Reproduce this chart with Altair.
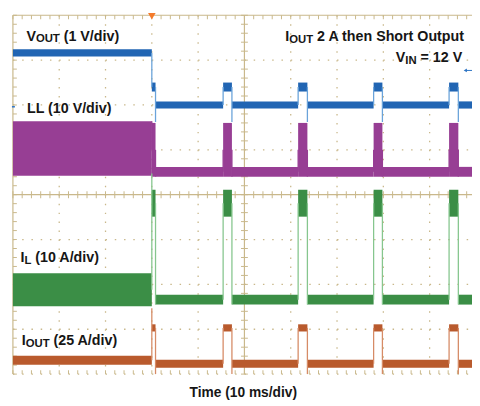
import altair as alt
import pandas as pd

FONT = "Liberation Sans"

# ---------------- data ----------------
# x: time in ms (10 ms/div); y: screen divisions (0 = bottom line, 8 = top line)
record_end_ms = 99.15
event_start_ms = [30.0, 45.4, 61.6, 77.9, 94.2]   # output shorted, then hiccup restarts
event_end_ms = [30.8, 47.3, 63.6, 79.8, 96.2]

channels = ["VOUT", "LL", "IL", "IOUT"]
pre_lo = [7.08, 4.42, 1.51, 0.21]     # trace band before the short
pre_hi = [7.24, 5.64, 2.25, 0.41]
high_lo = [6.30, 4.40, 3.51, 0.95]    # trace band during each restart burst
high_hi = [6.50, 5.60, 4.11, 1.11]
base_lo = [5.92, 4.40, 1.55, 0.14]    # trace band between bursts
base_hi = [6.08, 4.62, 1.77, 0.32]
peak = [6.50, 5.64, 4.47, 1.47]       # top of the edge when the short is applied
dip = [5.62, 4.40, 1.55, 0.00]        # bottom of each falling edge

trace_colors = ["#2165b3", "#973e94", "#3b8e46", "#b95a2d"]
edge_colors = ["#6aa3da", "#973e94", "#86c68e", "#d68b66"]

trigger_ms = 30.0
level_marker_div = 6.77
ground_marker_div = 5.96

# ---------------- build tables ----------------
rect_rows, edge_rows = [], []
for c, name in enumerate(channels):
    col, ecol = trace_colors[c], edge_colors[c]
    rect_rows.append(dict(t0=0.0, t1=event_start_ms[0], lo=pre_lo[c], hi=pre_hi[c], col=col))
    for i, (s, e) in enumerate(zip(event_start_ms, event_end_ms)):
        rect_rows.append(dict(t0=s, t1=e, lo=high_lo[c], hi=high_hi[c], col=col))
        nxt = event_start_ms[i + 1] if i + 1 < len(event_start_ms) else 100.0
        rect_rows.append(dict(t0=e, t1=nxt, lo=base_lo[c], hi=base_hi[c], col=col))
        base_mid = (base_lo[c] + base_hi[c]) / 2
        prev_mid = (pre_lo[c] + pre_hi[c]) / 2 if i == 0 else base_mid
        high_mid = (high_lo[c] + high_hi[c]) / 2
        top = max(prev_mid, high_mid, peak[c] if i == 0 else high_mid)
        edge_rows.append(dict(t=s, y0=min(prev_mid, high_mid), y1=top, col=ecol))
        edge_rows.append(dict(t=e, y0=min(dip[c], base_mid), y1=high_mid, col=ecol))

rects = pd.DataFrame(rect_rows)
edges = pd.DataFrame(edge_rows)

W, H = 467, 365
xs = alt.Scale(domain=[0, record_end_ms], nice=False, zero=False)
ys = alt.Scale(domain=[0, 8], nice=False, zero=False)
GRID = "#c9b88b"

layers = []

# ---- graticule ----
vdot = pd.DataFrame({"x": [10 * k for k in range(1, 10) if k != 5]})
vdot["y0"], vdot["y1"] = 8.0, 0.0
hdot = pd.DataFrame({"y": [k for k in range(0, 8) if k != 4]})
hdot["x0"], hdot["x1"] = 0.0, record_end_ms
vsolid = pd.DataFrame({"x": [0.0, 50.0], "y0": [8.0, 8.0], "y1": [0.0, 0.0]})
hsolid = pd.DataFrame({"y": [8.0, 4.0], "x0": [0.0, 0.0], "x1": [record_end_ms, record_end_ms]})

layers.append(alt.Chart(vdot).mark_rule(color=GRID, strokeWidth=1.3, strokeDash=[1.5, 7.625]).encode(
    x=alt.X("x:Q", scale=xs, axis=None), y=alt.Y("y0:Q", scale=ys, axis=None), y2="y1:Q"))
layers.append(alt.Chart(hdot).mark_rule(color=GRID, strokeWidth=1.3, strokeDash=[1.5, 7.92]).encode(
    y=alt.Y("y:Q", scale=ys), x=alt.X("x0:Q", scale=xs), x2="x1:Q"))
layers.append(alt.Chart(vsolid).mark_rule(color=GRID, strokeWidth=1.2).encode(
    x=alt.X("x:Q", scale=xs), y=alt.Y("y0:Q", scale=ys), y2="y1:Q"))
layers.append(alt.Chart(hsolid).mark_rule(color=GRID, strokeWidth=1.2).encode(
    y=alt.Y("y:Q", scale=ys), x=alt.X("x0:Q", scale=xs), x2="x1:Q"))

minor_x = [2 * k for k in range(0, 50)]
minor_y = [round(0.2 * k, 1) for k in range(0, 41)]
for yv, off, size in [(8, 2, 4), (0, -2, 4), (4, 0, 7)]:
    d = pd.DataFrame({"x": minor_x, "y": yv})
    layers.append(alt.Chart(d).mark_tick(color=GRID, orient="vertical", size=size, thickness=1,
                                         yOffset=off, opacity=1).encode(
        x=alt.X("x:Q", scale=xs), y=alt.Y("y:Q", scale=ys)))
for xv, off, size in [(0, 2, 4), (50, 0, 7)]:
    d = pd.DataFrame({"y": minor_y, "x": xv})
    layers.append(alt.Chart(d).mark_tick(color=GRID, orient="horizontal", size=size, thickness=1,
                                         xOffset=off, opacity=1).encode(
        x=alt.X("x:Q", scale=xs), y=alt.Y("y:Q", scale=ys)))

# ---- traces ----
layers.append(alt.Chart(rects).mark_rect(opacity=1).encode(
    x=alt.X("t0:Q", scale=xs), x2="t1:Q",
    y=alt.Y("lo:Q", scale=ys), y2="hi:Q",
    color=alt.Color("col:N", scale=None)))
layers.append(alt.Chart(edges).mark_rule(strokeWidth=1.3).encode(
    x=alt.X("t:Q", scale=xs), y=alt.Y("y0:Q", scale=ys), y2="y1:Q",
    color=alt.Color("col:N", scale=None)))

# ---- markers ----
trig = pd.DataFrame({"x": [trigger_ms], "y": [8.0]})
layers.append(alt.Chart(trig).mark_point(shape="triangle-down", filled=True, size=60, color="#f47a2a",
                                         opacity=1, yOffset=1).encode(
    x=alt.X("x:Q", scale=xs), y=alt.Y("y:Q", scale=ys)))
lvl = pd.DataFrame({"x0": [97.7], "x1": [record_end_ms], "y": [level_marker_div]})
layers.append(alt.Chart(lvl).mark_rule(color="#2d74c4", strokeWidth=1).encode(
    x=alt.X("x0:Q", scale=xs), x2="x1:Q", y=alt.Y("y:Q", scale=ys)))
layers.append(alt.Chart(lvl).mark_point(shape="triangle-left", filled=True, size=14, color="#2d74c4",
                                        opacity=1).encode(
    x=alt.X("x0:Q", scale=xs), y=alt.Y("y:Q", scale=ys)))
gnd = pd.DataFrame({"y": [ground_marker_div]})
layers.append(alt.Chart(gnd).mark_rule(color="#2d74c4", strokeWidth=1.5).encode(
    x=alt.value(-1), x2=alt.value(2), y=alt.Y("y:Q", scale=ys)))

# ---- text ----
AW = {' ': 278, '(': 333, ')': 333, '/': 278, '=': 584, 'A': 722, 'I': 278, 'L': 611, 'N': 722,
      'O': 778, 'S': 667, 'T': 611, 'U': 722, 'V': 667, 'd': 611, 'e': 556, 'h': 611, 'i': 278,
      'm': 889, 'n': 611, 'o': 611, 'p': 611, 'r': 389, 's': 556, 't': 333, 'u': 611, 'v': 556}


def tw(s, size):
    return sum(AW.get(ch, 556) for ch in s) * size / 1000.0


def rich(x, y, align, parts):
    total = sum(tw(s, sz) for s, sz, _ in parts)
    x0 = x - total if align == "right" else (x - total / 2 if align == "center" else x)
    out = []
    for s, sz, dy in parts:
        lead = len(s) - len(s.lstrip(" "))
        x0 += tw(" " * lead, sz)
        s2 = s.lstrip(" ")
        d = pd.DataFrame({"label": [s2]})
        out.append(alt.Chart(d).mark_text(align="left", baseline="alphabetic", font=FONT,
                                          fontSize=sz, fontWeight="bold", color="#161616").encode(
            text="label:N", x=alt.value(round(x0, 2)), y=alt.value(round(y + dy, 2))))
        x0 += tw(s2, sz)
    return out


BIG, SUB, SH = 14.5, 11.5, 1.8
layers += rich(13.7, 25.7, "left", [("V", BIG, 0), ("OUT", SUB, SH), (" (1 V/div)", BIG, 0)])
layers += rich(14.3, 99.7, "left", [("LL (10 V/div)", BIG, 0)])
layers += rich(7.7, 251.3, "left", [("I", BIG, 0), ("L", SUB, SH), (" (10 A/div)", BIG, 0)])
layers += rich(9.0, 335.3, "left", [("I", BIG, 0), ("OUT", SUB, SH), (" (25 A/div)", BIG, 0)])
layers += rich(460.0, 26.3, "right", [("I", BIG, 0), ("OUT", SUB, SH), (" 2 A then Short Output", BIG, 0)])
layers += rich(457.0, 48.0, "right", [("V", BIG, 0), ("IN", SUB, SH), (" = 12 V", BIG, 0)])
layers += rich(234.5, 388.0, "center", [("Time (10 ms/div)", 14, 0)])

chart = alt.layer(*layers).properties(
    width=W, height=H,
    autosize=alt.AutoSizeParams(type="none"),
    padding={"left": 5, "top": 4, "right": 0, "bottom": 26},
    background="white",
).configure_view(stroke=None)

chart.save("out.html", embed_options={"renderer": "svg", "actions": False})
